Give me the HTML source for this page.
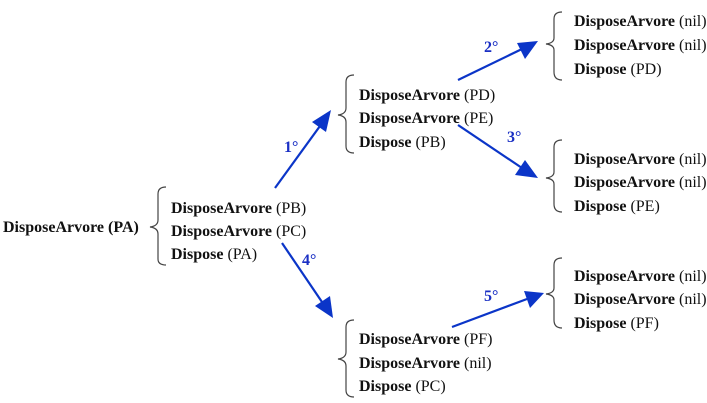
<!DOCTYPE html>
<html><head><meta charset="utf-8"><style>
body{margin:0;background:#fff}
svg{display:block}
text{font-family:"Liberation Serif","Times New Roman","DejaVu Serif",serif;font-size:16px;fill:#111}
.b{font-weight:bold}
.l{font-weight:bold;fill:#1a2fc4}
.br{fill:none;stroke:#444;stroke-width:1.2}
.ar{stroke:#0b35c8;stroke-width:2.2}
.ah{fill:#0b35c8}
</style></head><body>
<svg width="707" height="403" viewBox="0 0 707 403" xmlns="http://www.w3.org/2000/svg">
<text x="3" y="232" class="b">DisposeArvore (PA)</text>

<path class="br" d="M166,187 Q158,187 158,194 L158,220 Q158,226 150,227 Q158,228 158,234 L158,259 Q158,265 166,265"/>
<text x="171" y="213"><tspan class="b">DisposeArvore</tspan> (PB)</text>
<text x="171" y="236"><tspan class="b">DisposeArvore</tspan> (PC)</text>
<text x="171" y="259"><tspan class="b">Dispose</tspan> (PA)</text>

<path class="br" d="M354,75 Q346,75 346,82 L346,108 Q346,114 338,115 Q346,116 346,122 L346,146 Q346,153 354,153"/>
<text x="359" y="100"><tspan class="b">DisposeArvore</tspan> (PD)</text>
<text x="359" y="123"><tspan class="b">DisposeArvore</tspan> (PE)</text>
<text x="359" y="147"><tspan class="b">Dispose</tspan> (PB)</text>

<path class="br" d="M562,12 Q554,12 554,19 L554,38 Q554,43 546,44 Q554,45 554,50 L554,72 Q554,80 562,80"/>
<text x="574" y="26"><tspan class="b">DisposeArvore</tspan> (nil)</text>
<text x="574" y="50"><tspan class="b">DisposeArvore</tspan> (nil)</text>
<text x="574" y="74"><tspan class="b">Dispose</tspan> (PD)</text>

<path class="br" d="M562,140 Q554,140 554,147 L554,172 Q554,177 546,178 Q554,179 554,184 L554,204 Q554,212 562,212"/>
<text x="574" y="164"><tspan class="b">DisposeArvore</tspan> (nil)</text>
<text x="574" y="187"><tspan class="b">DisposeArvore</tspan> (nil)</text>
<text x="574" y="211"><tspan class="b">Dispose</tspan> (PE)</text>

<path class="br" d="M562,258 Q554,258 554,265 L554,288 Q554,293 546,294 Q554,295 554,300 L554,320 Q554,328 562,328"/>
<text x="574" y="281"><tspan class="b">DisposeArvore</tspan> (nil)</text>
<text x="574" y="304"><tspan class="b">DisposeArvore</tspan> (nil)</text>
<text x="574" y="328"><tspan class="b">Dispose</tspan> (PF)</text>

<path class="br" d="M354,320 Q346,320 346,327 L346,352 Q346,358 338,359 Q346,360 346,366 L346,390 Q346,397 354,397"/>
<text x="359" y="344"><tspan class="b">DisposeArvore</tspan> (PF)</text>
<text x="359" y="368"><tspan class="b">DisposeArvore</tspan> (nil)</text>
<text x="359" y="391"><tspan class="b">Dispose</tspan> (PC)</text>

<line class="ar" x1="275" y1="188" x2="320" y2="126"/>
<polygon class="ah" points="331,110 326,132 312,122"/>
<text x="284" y="152" class="l">1°</text>

<line class="ar" x1="458" y1="80" x2="522" y2="49"/>
<polygon class="ah" points="538,41 525,59 517,43"/>
<text x="484" y="52" class="l">2°</text>

<line class="ar" x1="458" y1="125" x2="522" y2="168"/>
<polygon class="ah" points="538,178 515,175 525,160"/>
<text x="507" y="142" class="l">3°</text>

<line class="ar" x1="282" y1="243" x2="322" y2="302"/>
<polygon class="ah" points="333,318 315,306 330,296"/>
<text x="302" y="265" class="l">4°</text>

<line class="ar" x1="452" y1="327" x2="527" y2="299"/>
<polygon class="ah" points="544,293 530,308 524,291"/>
<text x="484" y="301" class="l">5°</text>
</svg>
</body></html>
